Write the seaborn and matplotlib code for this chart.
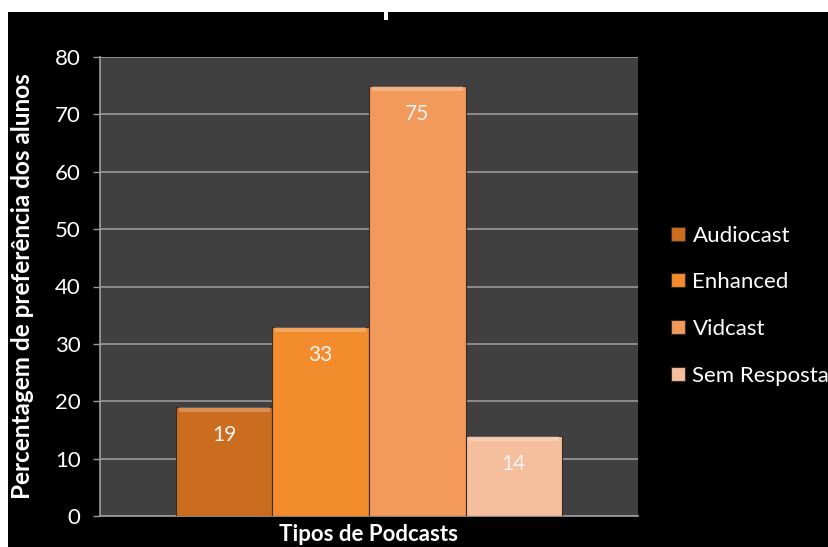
import matplotlib
matplotlib.use("Agg")
import matplotlib.pyplot as plt
from matplotlib.patches import Rectangle
import seaborn as sns
import pandas as pd

# ---- data ----
categorias = ["Tipos de Podcasts"]
tipos = ["Audiocast", "Enhanced", "Vidcast", "Sem Resposta"]
valores = [19, 33, 75, 14]
cores = ["#CC6C1E", "#F28C2C", "#F29A5C", "#F5BE9C"]
yticks = [0, 10, 20, 30, 40, 50, 60, 70, 80]

df = pd.DataFrame({
    "categoria": categorias * len(tipos),
    "tipo": tipos,
    "valor": valores,
})

sns.set_theme(style="dark")
plt.rcParams["font.family"] = ["Lato", "DejaVu Sans"]

W, H = 829, 547
fig = plt.figure(figsize=(W / 100, H / 100), dpi=100)
fig.patch.set_facecolor("black")

# white strips (top/left) like the reference crop
fig.patches.append(Rectangle((0, 1 - 12 / H), 1, 12 / H, transform=fig.transFigure,
                             facecolor="white", edgecolor="none", zorder=0))
fig.patches.append(Rectangle((0, 0), 8 / W, 1, transform=fig.transFigure,
                             facecolor="white", edgecolor="none", zorder=0))
# remnant of the cropped title
fig.patches.append(Rectangle((384 / W, 1 - 20 / H), 4 / W, 8 / H, transform=fig.transFigure,
                             facecolor="white", edgecolor="none", zorder=3))

left, right, top, bottom = 100, 638, 57, 516
ax = fig.add_axes([left / W, 1 - bottom / H, (right - left) / W, (bottom - top) / H])
ax.set_facecolor("#404040")

sns.barplot(data=df, x="categoria", y="valor", hue="tipo", hue_order=tipos,
            palette=cores, width=0.718, saturation=1, ax=ax,
            edgecolor="#3a2a1f", linewidth=0.8, zorder=3)

# bevel highlight on top of each bar
for patch in ax.patches[:len(tipos)]:
    x0, w = patch.get_x(), patch.get_width()
    hgt = patch.get_height()
    ax.add_patch(Rectangle((x0 + w * 0.03, hgt - 0.9), w * 0.94, 0.9,
                           facecolor="white", alpha=0.25, edgecolor="none", zorder=4))

for cont in ax.containers:
    for bar in cont:
        v = bar.get_height()
        ax.annotate(f"{v:.0f}", (bar.get_x() + bar.get_width() / 2, v),
                    xytext=(0, -20.5), textcoords="offset points",
                    ha="center", va="center", color="#f4f4f4", fontsize=15, zorder=5)

ax.set_ylim(0, 80)
ax.set_yticks(yticks)
ax.set_xlim(-0.5, 0.5)
ax.grid(axis="y", color="#9a9a9a", linewidth=1.2, zorder=1)
ax.grid(axis="x", visible=False)
ax.set_axisbelow(True)
ax.tick_params(axis="y", colors="white", labelsize=16, length=5, width=1,
               pad=9, left=True, color="#9a9a9a")
ax.tick_params(axis="x", bottom=False, labelbottom=False)
for s in ["top", "right"]:
    ax.spines[s].set_visible(False)
ax.spines["left"].set_color("#9a9a9a")
ax.spines["bottom"].set_color("#9a9a9a")

ax.set_ylabel("Percentagem de preferência dos alunos", color="white",
              fontsize=17.5, fontweight="bold")
ax.yaxis.set_label_coords(-(left - 34) / (right - left), 0.5)
ax.set_xlabel("Tipos de Podcasts", color="white", fontsize=16,
              fontweight="bold", labelpad=6)

leg = ax.legend(loc="center left", bbox_to_anchor=(1.062, 0.4586), frameon=False,
                borderaxespad=0, borderpad=0, handlelength=0.6, handleheight=0.6,
                handletextpad=0.35, labelspacing=1.2, fontsize=16)
for t in leg.get_texts():
    t.set_color("white")

fig.savefig("out.png", dpi=100, facecolor=fig.get_facecolor())
